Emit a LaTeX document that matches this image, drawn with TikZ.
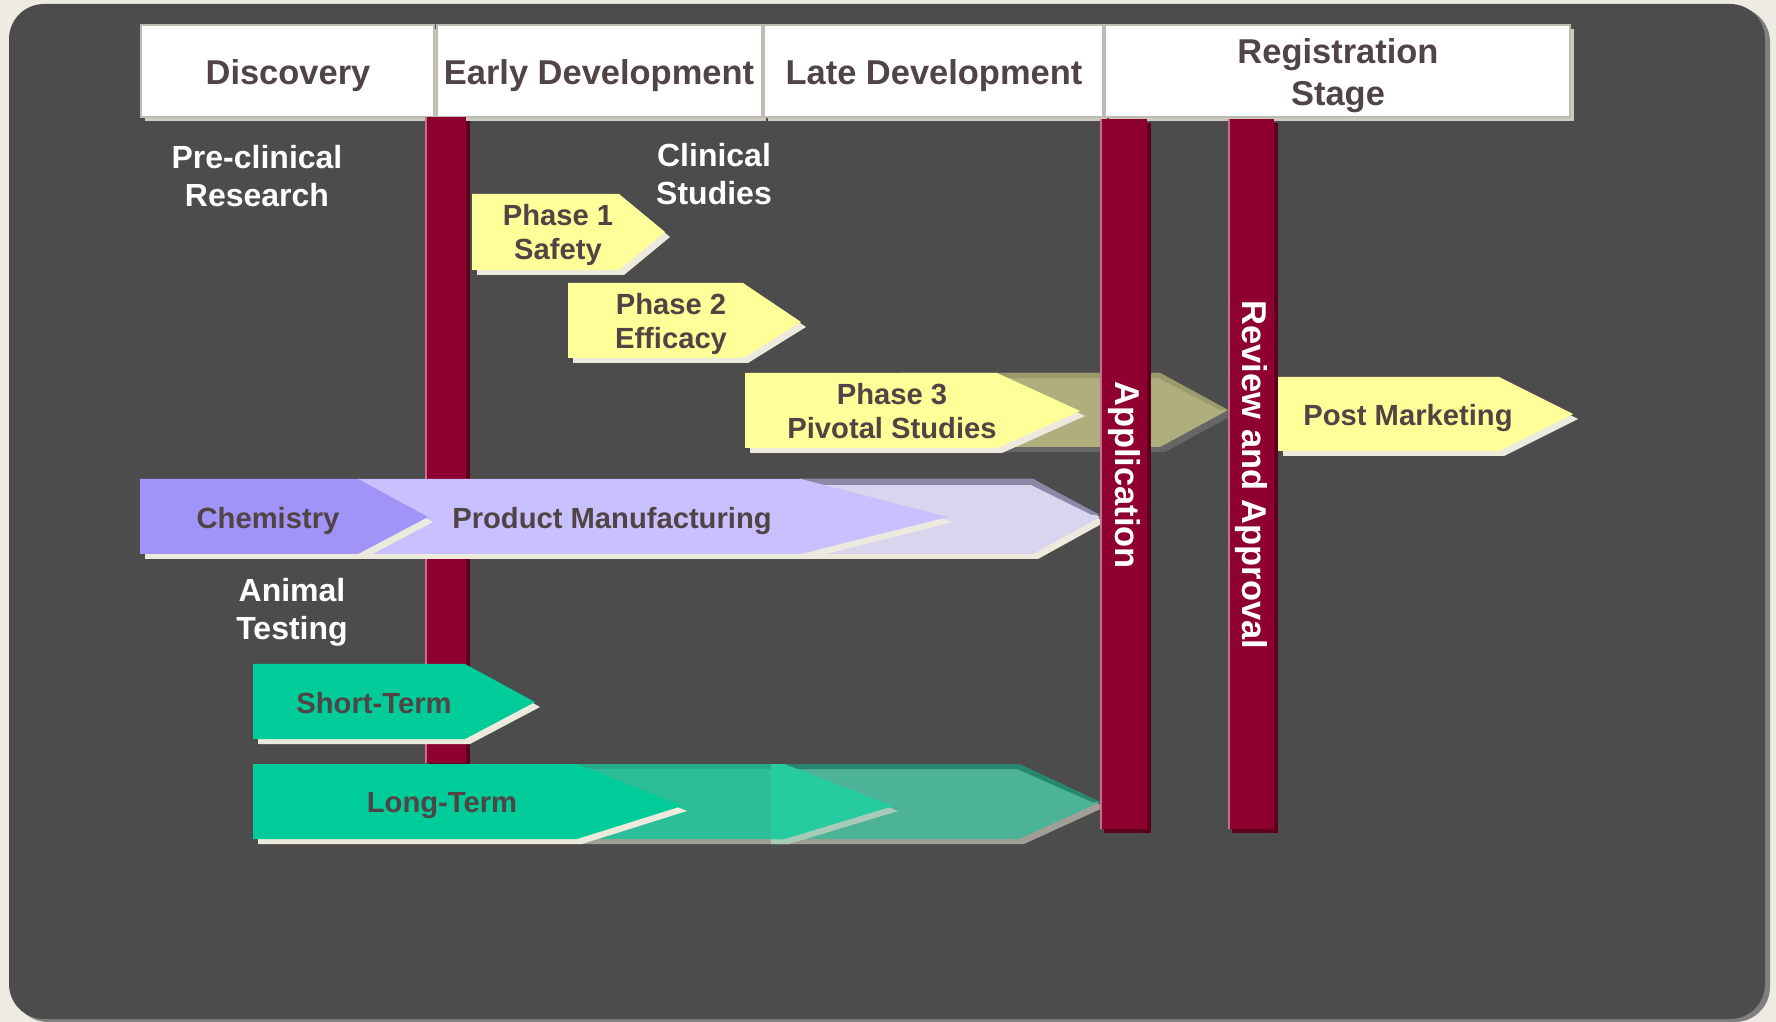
\documentclass[tikz,border=0pt]{standalone}
\usepackage{fontspec}
\setmainfont{Liberation Sans}
\definecolor{bgout}{RGB}{238,235,228}
\definecolor{panel}{RGB}{76,76,76}
\definecolor{panelsh}{RGB}{128,128,128}
\definecolor{txt}{RGB}{80,68,68}
\definecolor{hdrsh}{RGB}{205,203,190}
\definecolor{hdrline}{RGB}{190,188,176}
\definecolor{barred}{RGB}{142,0,48}
\definecolor{barsh}{RGB}{92,0,30}
\definecolor{baredge}{RGB}{200,110,140}
\definecolor{yel}{RGB}{255,255,153}
\definecolor{shbeige}{RGB}{236,234,220}
\definecolor{olive}{RGB}{175,175,125}
\definecolor{oliveband}{RGB}{154,154,106}
\definecolor{olivesh}{RGB}{102,102,102}
\definecolor{chem}{RGB}{160,148,248}
\definecolor{prod}{RGB}{200,192,255}
\definecolor{lav}{RGB}{217,213,238}
\definecolor{lavband}{RGB}{140,136,168}
\definecolor{grn}{RGB}{0,204,153}
\definecolor{grntwo}{RGB}{43,190,151}
\definecolor{grntwoband}{RGB}{36,170,136}
\definecolor{grnover}{RGB}{39,203,160}
\definecolor{grnthree}{RGB}{77,179,150}
\definecolor{grnband}{RGB}{38,135,110}
\definecolor{grnsh}{RGB}{160,158,150}
\definecolor{grnshover}{RGB}{166,203,184}
\newcommand{\chevpath}[6]{(#1,#2) -- (#3,#2) -- (#4,#5) -- (#3,#6) -- (#1,#6) -- cycle}
\tikzset{
  hdr/.style={font=\fontsize{9.8}{11.9}\selectfont\bfseries, text=txt, align=center, inner sep=0pt},
  wlab/.style={font=\fontsize{9.1}{10.9}\selectfont\bfseries, text=white, align=center, inner sep=0pt},
  atxt/.style={font=\fontsize{8.3}{9.8}\selectfont\bfseries, text=txt, align=center, inner sep=0pt},
  bartxt/.style={font=\fontsize{9.8}{12}\selectfont\bfseries, text=white, inner sep=0pt, rotate=-90},
  shoff/.style={shift={(5,5)}},
}
\begin{document}
\begin{tikzpicture}[x=0.01cm,y=-0.01cm]
\useasboundingbox (0,0) rectangle (1776,1022);
\fill[bgout] (0,0) rectangle (1776,1022);
\fill[panelsh, rounded corners=0.35cm] (13,7) rectangle (1770,1022);
\fill[panel, rounded corners=0.35cm] (9,4) rectangle (1765,1019);

% header boxes
\foreach \a/\b in {141/434, 437/762, 764/1103, 1105/1570} {
  \fill[hdrsh] (\a+4,29) rectangle (\b+4,121);
  \filldraw[fill=white, draw=hdrline, line width=0.5pt] (\a,25) rectangle (\b,117);
}
\node[hdr] (disc) at (288,76) {Discovery};
\node[hdr] (early) at (599,76) {Early Development};
\node[hdr] (late) at (934,76) {Late Development};
\node[hdr] (reg) at (1338,76) {Registration\\Stage};

% first bar (behind arrows)
\fill[barsh] (429,121) rectangle (470,767);
\fill[barred] (425,117) rectangle (466,763);
\fill[baredge] (425,117) rectangle (427,763);

% white labels
\node[wlab] (precl) at (257,176) {Pre-clinical\\Research};
\node[wlab] (clin) at (714,174) {Clinical\\Studies};
\node[wlab] (anim) at (292,612) {Animal\\Testing};

% phase 1
\fill[shbeige, shoff] \chevpath{472}{194}{619}{665}{232}{270};
\fill[yel] \chevpath{472}{194}{619}{665}{232}{270};
\node[atxt] (ph1) at (558,235) {Phase 1\\Safety};
% phase 2
\fill[shbeige, shoff] \chevpath{568}{283}{743}{801}{322}{358};
\fill[yel] \chevpath{568}{283}{743}{801}{322}{358};
\node[atxt] (ph2) at (671,324) {Phase 2\\Efficacy};
% olive behind phase 3
\fill[olivesh, shoff] \chevpath{900}{373}{1160}{1228}{410}{447};
\fill[olive] \chevpath{900}{373}{1160}{1228}{410}{447};
\fill[oliveband] (900,373) -- (1160,373) -- (1228,410) -- (1220,410) -- (1158,378) -- (900,378) -- cycle;
% phase 3
\fill[shbeige, shoff] \chevpath{745}{373}{997}{1080}{411}{448};
\fill[yel] \chevpath{745}{373}{997}{1080}{411}{448};
\node[atxt] (ph3) at (892,411) {Phase 3\\Pivotal Studies};
% post marketing
\fill[shbeige, shoff] \chevpath{1278}{377}{1499}{1573}{414}{451};
\fill[yel] \chevpath{1278}{377}{1499}{1573}{414}{451};
\node[atxt] (post) at (1408,418) {Post Marketing};

% lavender row
\fill[shbeige, shoff] \chevpath{800}{479}{1033}{1100}{517}{554};
\fill[lav] \chevpath{800}{479}{1033}{1100}{517}{554};
\fill[lavband] (800,479) -- (1033,479) -- (1100,515) -- (1092,515) -- (1031,485) -- (800,485) -- cycle;
\fill[shbeige, shoff] \chevpath{358}{479}{801}{948}{517}{554};
\fill[prod] \chevpath{358}{479}{801}{948}{517}{554};
\fill[shbeige, shoff] \chevpath{140}{479}{358}{428}{517}{554};
\fill[chem] \chevpath{140}{479}{358}{428}{517}{554};
\node[atxt] (chemt) at (268,521) {Chemistry};
\node[atxt] (prodt) at (612,521) {Product Manufacturing};

% short term
\fill[shbeige, shoff] \chevpath{253}{664}{465}{535}{702}{739};
\fill[grn] \chevpath{253}{664}{465}{535}{702}{739};
\node[atxt] (short) at (374,703) {Short-Term};

% long term
\fill[grnsh, shoff] \chevpath{771}{764}{1019}{1100}{802}{839};
\fill[grnthree] \chevpath{771}{764}{1019}{1100}{802}{839};
\fill[grnband] (771,764) -- (1019,764) -- (1100,802) -- (1092,802) -- (1017,769) -- (771,769) -- cycle;
\fill[grnsh, shoff] \chevpath{577}{764}{784}{893}{806}{839};
\begin{scope}
  \clip (771,700) rectangle (1000,900);
  \fill[grnshover, shoff] \chevpath{577}{764}{784}{893}{806}{839};
\end{scope}
\fill[grntwo] \chevpath{577}{764}{784}{893}{806}{839};
\fill[grntwoband] (577,764) rectangle (771,769);
\begin{scope}
  \clip (771,700) rectangle (1000,900);
  \fill[grnover] \chevpath{577}{764}{784}{893}{806}{839};
\end{scope}
\fill[shbeige, shoff] \chevpath{253}{764}{577}{682}{806}{839};
\fill[grn] \chevpath{253}{764}{577}{682}{806}{839};
\node[atxt] (long) at (442,806) {Long-Term};

% application and review bars
\foreach \a/\b in {1100/1147, 1228/1274} {
  \fill[barsh] (\a+4,123) rectangle (\b+4,833);
  \fill[barred] (\a,119) rectangle (\b,829);
  \fill[baredge] (\a,119) rectangle (\a+2,829);
}
\node[bartxt] (app) at (1124,475) {Application};
\node[bartxt] (rev) at (1251,475) {Review and Approval};
\end{tikzpicture}
\end{document}
